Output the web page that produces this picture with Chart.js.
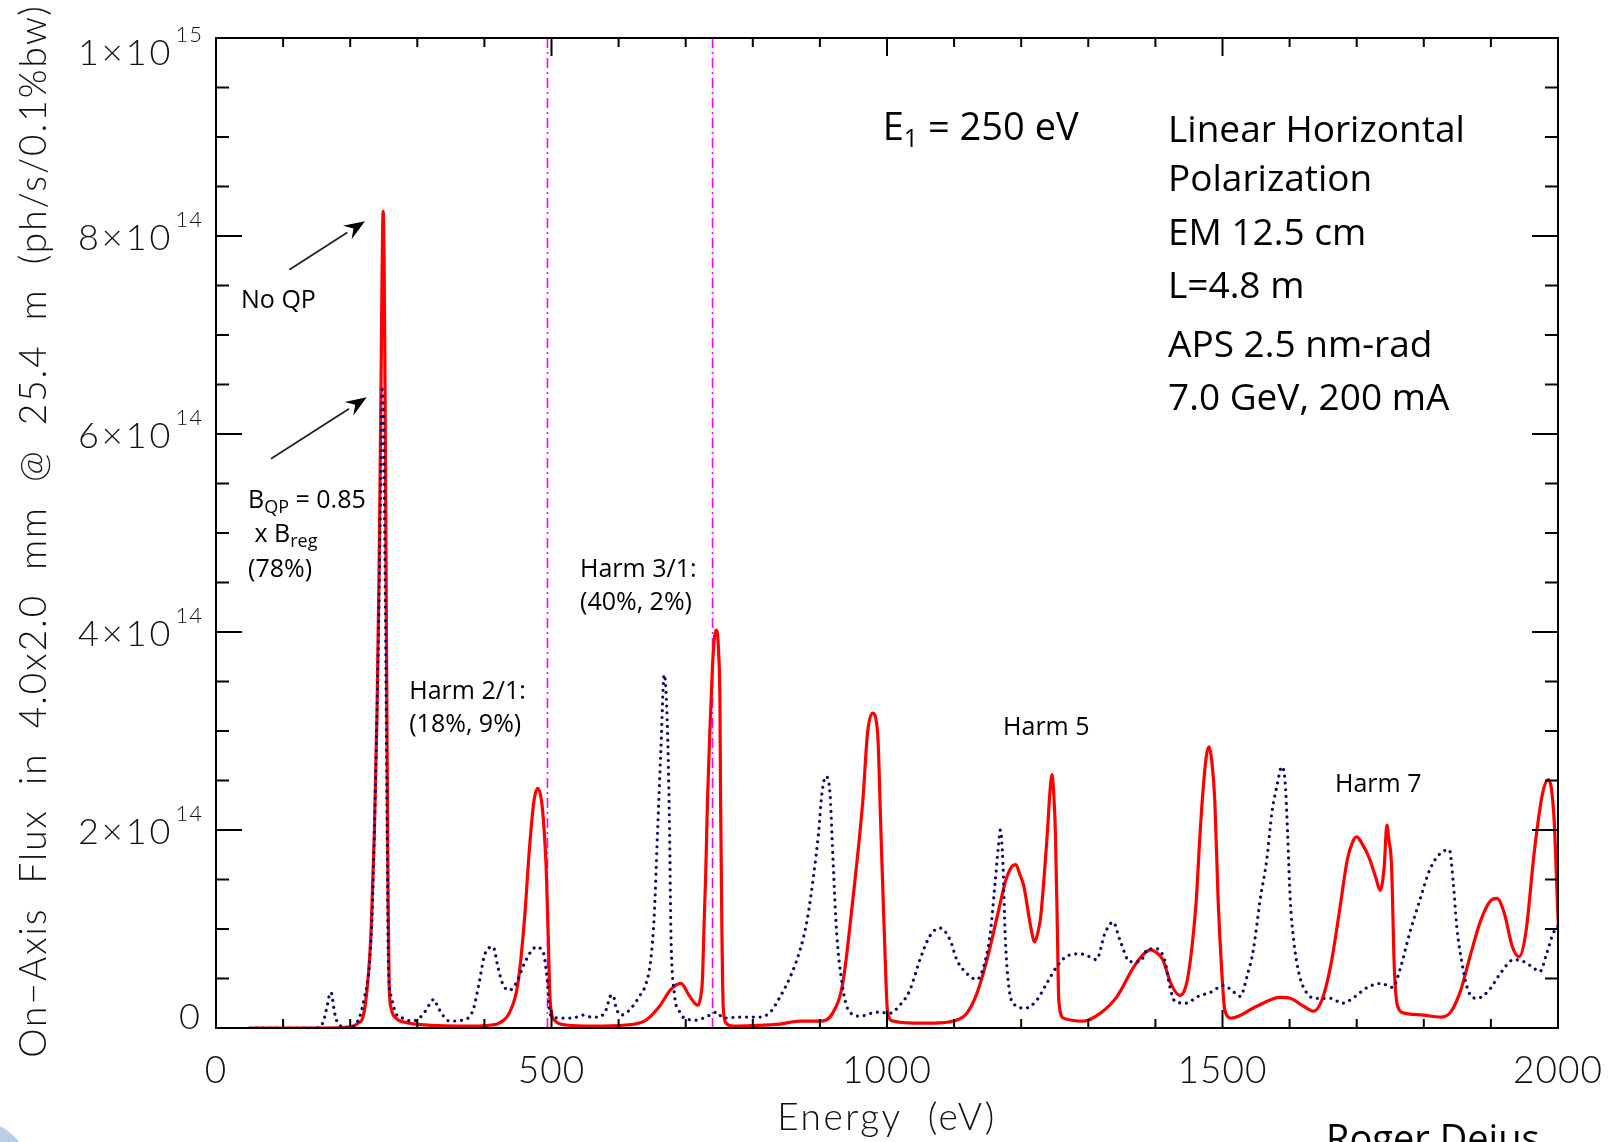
<!DOCTYPE html>
<html>
<head>
<meta charset="utf-8">
<title>On-axis flux, quasi-periodic undulator</title>
<script src="https://cdn.jsdelivr.net/npm/chart.js@4.4.1/dist/chart.umd.min.js"></script>
<style>
  html, body { margin: 0; padding: 0; background: #fff; }
  #wrap { width: 1614px; height: 1142px; }
</style>
</head>
<body>
<div id="wrap"><canvas id="fluxChart" width="1614" height="1142" style="width:1614px;height:1142px"></canvas></div>
<script>
// Flux values are in units of 1e14 ph/s/0.1%bw, energies in eV

// Regular undulator (no quasi-periodic poles) - solid red
const energyNoQP = [
  50, 100, 150, 190, 205, 212, 219, 226, 231, 236, 240, 243, 245.5, 247.5, 249, 250.5, 252, 253.5, 255, 256.5,
  258, 261, 268, 280, 298, 330, 380, 410, 422, 437, 450, 460, 467, 474, 479.5, 485, 489, 492, 495, 498,
  504, 522, 560, 611, 641, 661, 678, 693, 705, 718, 722, 725, 727, 730, 732.5, 736, 740, 743, 746, 749,
  751, 752, 754, 756, 760, 770, 800, 840, 870, 900, 919, 934, 949, 964, 971, 978.5, 986, 991, 996, 1001,
  1009, 1040, 1069, 1099, 1119, 1134, 1149, 1164, 1177, 1185, 1192, 1198, 1204, 1214, 1220, 1225, 1229, 1235, 1239, 1243,
  1246, 1249, 1251, 1254, 1256, 1263, 1293, 1318, 1343, 1368, 1383, 1393, 1400, 1411, 1423, 1436, 1442, 1448, 1455, 1461,
  1466, 1471, 1476, 1480, 1484, 1488.5, 1493.5, 1498.5, 1503.5, 1513, 1551, 1586, 1601, 1621, 1636, 1648, 1661, 1673, 1686, 1694,
  1700, 1709, 1718, 1728, 1735, 1741, 1745, 1748, 1752, 1756, 1761, 1771, 1800, 1825, 1840, 1855, 1870, 1885, 1900, 1909,
  1920, 1932, 1942, 1952, 1965, 1977, 1986, 1994, 1999, 2002
];
const fluxNoQP = [
  0, 0, 0, 0.005, 0.02, 0.05, 0.11, 0.45, 0.96, 1.97, 3.2, 4.6, 6.2, 7.6, 8.25, 7.8, 6.4, 4.6, 2.8, 1.3,
  0.45, 0.2, 0.10, 0.06, 0.04, 0.025, 0.02, 0.03, 0.05, 0.15, 0.45, 1.12, 1.8, 2.30, 2.42, 2.3, 2.0, 1.63, 0.96, 0.28,
  0.08, 0.03, 0.02, 0.03, 0.08, 0.22, 0.39, 0.45, 0.33, 0.23, 0.30, 0.5, 0.96, 1.6, 2.3, 3.0, 3.66, 3.95, 4.02, 3.8,
  3.3, 2.3, 0.96, 0.2, 0.05, 0.02, 0.025, 0.04, 0.07, 0.07, 0.15, 0.45, 1.29, 2.30, 2.98, 3.18, 2.98, 1.97, 0.96, 0.15,
  0.07, 0.05, 0.05, 0.07, 0.15, 0.35, 0.69, 1.12, 1.49, 1.62, 1.65, 1.55, 1.43, 1.03, 0.87, 0.97, 1.12, 1.6, 1.97, 2.4,
  2.56, 2.3, 1.97, 0.96, 0.28, 0.10, 0.07, 0.15, 0.32, 0.62, 0.75, 0.79, 0.77, 0.69, 0.45, 0.33, 0.36, 0.5, 0.85, 1.3,
  1.9, 2.4, 2.75, 2.84, 2.7, 2.3, 1.29, 0.62, 0.18, 0.10, 0.22, 0.31, 0.30, 0.22, 0.17, 0.28, 0.62, 1.12, 1.70, 1.88,
  1.93, 1.85, 1.73, 1.53, 1.39, 1.63, 2.05, 1.9, 1.63, 0.62, 0.22, 0.15, 0.13, 0.11, 0.16, 0.38, 0.75, 1.09, 1.29, 1.31,
  1.16, 0.82, 0.72, 0.96, 1.80, 2.37, 2.51, 2.13, 1.29, 0.79
];

// Quasi-periodic undulator, B_QP = 0.85 x B_reg - dotted navy
const energyQP = [
  50, 100, 150, 159, 165, 169, 171.5, 174, 176, 180, 184, 199, 207, 214, 221, 228.5, 233, 236, 240, 243,
  245.5, 247.5, 249, 250.5, 252, 253.5, 255, 257, 261, 268, 278, 293, 303, 313, 320, 325, 330, 338, 348, 368,
  383, 392, 400, 407, 413, 420, 427, 437, 447, 459.5, 469, 478, 484, 489, 494, 497, 502, 517, 531.5, 546,
  560, 571, 581, 589, 592, 596, 603.5, 616, 631, 641, 648, 653, 658, 663, 668, 673, 676, 678, 683, 690.5,
  698, 715, 736, 746, 756, 781, 811, 826, 841, 856, 870.5, 881, 891, 898, 903, 909, 915, 920, 925, 933,
  942.5, 960, 985, 1004.5, 1019, 1034, 1049, 1064, 1079, 1094, 1104, 1119, 1134, 1144, 1154, 1161, 1166, 1169, 1173, 1176,
  1181, 1191, 1206, 1223, 1238, 1253, 1267, 1287, 1302, 1312, 1325, 1337, 1347, 1362, 1377, 1389, 1402, 1414, 1421.5, 1429,
  1445, 1464, 1482, 1502, 1514, 1526.5, 1536.5, 1546, 1556, 1566, 1573.5, 1581, 1588.5, 1593.5, 1597, 1601, 1606, 1614, 1626, 1641,
  1661, 1679, 1696, 1716, 1736, 1754, 1764, 1779, 1794, 1809, 1824, 1838, 1844, 1849, 1857, 1866, 1879, 1897, 1914, 1934,
  1949, 1961, 1973, 1983, 1993, 2000
];
const fluxQP = [
  0, 0, 0, 0.05, 0.2, 0.33, 0.36, 0.28, 0.18, 0.07, 0.03, 0.0, 0.03, 0.11, 0.3, 0.62, 1.2, 1.97, 3.2, 4.3,
  5.5, 6.45, 6.3, 5.6, 4.6, 3.4, 2.0, 0.62, 0.32, 0.15, 0.10, 0.07, 0.10, 0.18, 0.26, 0.29, 0.22, 0.13, 0.07, 0.08,
  0.18, 0.45, 0.73, 0.81, 0.82, 0.62, 0.45, 0.38, 0.45, 0.65, 0.77, 0.82, 0.80, 0.73, 0.45, 0.18, 0.11, 0.10, 0.10, 0.13,
  0.11, 0.11, 0.18, 0.33, 0.33, 0.21, 0.13, 0.18, 0.32, 0.45, 0.69, 1.12, 1.97, 2.81, 3.57, 2.98, 1.97, 0.96, 0.35, 0.17,
  0.10, 0.08, 0.13, 0.16, 0.10, 0.11, 0.11, 0.16, 0.32, 0.52, 0.79, 1.09, 1.56, 1.97, 2.37, 2.54, 2.37, 1.63, 0.96, 0.45,
  0.18, 0.12, 0.16, 0.15, 0.23, 0.38, 0.69, 0.93, 1.01, 0.89, 0.69, 0.55, 0.49, 0.62, 0.96, 1.46, 1.83, 2.0, 1.63, 0.96,
  0.45, 0.23, 0.20, 0.28, 0.45, 0.62, 0.72, 0.75, 0.72, 0.69, 0.96, 1.07, 0.89, 0.67, 0.67, 0.80, 0.80, 0.68, 0.42, 0.27,
  0.25, 0.32, 0.36, 0.43, 0.38, 0.32, 0.52, 0.79, 1.29, 1.70, 2.17, 2.44, 2.64, 2.47, 1.97, 1.29, 0.89, 0.55, 0.35, 0.30,
  0.30, 0.25, 0.31, 0.41, 0.45, 0.41, 0.58, 0.96, 1.29, 1.60, 1.76, 1.80, 1.46, 1.03, 0.65, 0.38, 0.30, 0.38, 0.55, 0.69,
  0.67, 0.62, 0.57, 0.75, 0.96, 1.03
];

// Energies of the dash-dot markers (2nd and 3rd harmonic of E1)
const harmonicMarkers = [494, 740];

// Axis ranges and tick labels
const energyTicks = [0, 500, 1000, 1500, 2000];
const fluxTicks = [0, 2, 4, 6, 8, 10];
const fluxTickBase = ['0', '2×10', '4×10', '6×10', '8×10', '1×10'];
const fluxTickExp = ['', '14', '14', '14', '14', '15'];

const AXIS_FONT = '"Lato", "DejaVu Sans", sans-serif';
const NOTE_FONT = '"Open Sans", "Noto Sans", sans-serif';

function toPoints(xs, ys) {
  return xs.map((x, i) => ({ x: x, y: ys[i] }));
}

// Draw a run of text pieces (for sub/superscripts), left aligned at (x, y)
function drawRich(ctx, pieces, x, y) {
  let cx = x;
  pieces.forEach(p => {
    ctx.font = p.size + 'px ' + NOTE_FONT;
    ctx.fillText(p.t, cx, y + (p.dy || 0));
    cx += ctx.measureText(p.t).width;
  });
}

function drawArrow(ctx, x0, y0, x1, y1) {
  const ang = Math.atan2(y1 - y0, x1 - x0);
  const headLen = 21, headHalf = 8;
  const bx = x1 - headLen * Math.cos(ang), by = y1 - headLen * Math.sin(ang);
  ctx.strokeStyle = '#222';
  ctx.lineWidth = 1.8;
  ctx.beginPath();
  ctx.moveTo(x0, y0);
  ctx.lineTo(bx, by);
  ctx.stroke();
  ctx.fillStyle = '#000';
  ctx.beginPath();
  ctx.moveTo(x1, y1);
  ctx.lineTo(bx + headHalf * Math.sin(ang), by - headHalf * Math.cos(ang));
  ctx.lineTo(bx + 0.35 * headLen * Math.cos(ang), by + 0.35 * headLen * Math.sin(ang));
  ctx.lineTo(bx - headHalf * Math.sin(ang), by + headHalf * Math.cos(ang));
  ctx.closePath();
  ctx.fill();
}

// Box frame with inward ticks, tick labels, axis titles and notes
const idlFrame = {
  id: 'idlFrame',
  afterDatasetsDraw(chart) {
    const { ctx, chartArea: a, scales: { x, y } } = chart;
    ctx.save();

    ctx.strokeStyle = '#000';
    ctx.lineWidth = 2;
    ctx.strokeRect(a.left, a.top, a.right - a.left, a.bottom - a.top);

    ctx.lineWidth = 2;
    ctx.beginPath();
    // energy ticks: minor every 100 eV, major every 500 eV
    for (let e = x.min; e <= x.max; e += 100) {
      const px = x.getPixelForValue(e);
      const len = e % 500 === 0 ? 18 : 9;
      ctx.moveTo(px, a.bottom); ctx.lineTo(px, a.bottom - len);
      ctx.moveTo(px, a.top); ctx.lineTo(px, a.top + len);
    }
    // flux ticks: minor every 0.5e14, major every 2e14
    for (let v = y.min; v <= y.max + 1e-9; v += 0.5) {
      const py = y.getPixelForValue(v);
      const len = Math.abs(v % 2) < 1e-9 ? 26 : 13;
      ctx.moveTo(a.left, py); ctx.lineTo(a.left + len, py);
      ctx.moveTo(a.right, py); ctx.lineTo(a.right - len, py);
    }
    ctx.stroke();

    ctx.fillStyle = '#111';
    ctx.textBaseline = 'middle';

    // energy tick labels
    ctx.font = '300 37px ' + AXIS_FONT;
    ctx.letterSpacing = '1px';
    ctx.textAlign = 'center';
    energyTicks.forEach(e => {
      ctx.fillText(String(e), x.getPixelForValue(e), 1071);
    });

    // flux tick labels, kept inside the frame vertically
    const labelRight = a.left - 13;
    fluxTicks.forEach((v, i) => {
      let py = y.getPixelForValue(v);
      py = Math.min(Math.max(py, a.top + 13), a.bottom - 13);
      ctx.textAlign = 'right';
      let right = labelRight;
      if (fluxTickExp[i]) {
        ctx.font = '300 22px ' + AXIS_FONT;
        ctx.letterSpacing = '1px';
        ctx.fillText(fluxTickExp[i], right, py - 16);
        right -= ctx.measureText(fluxTickExp[i]).width + 2;
      }
      ctx.font = '300 36px ' + AXIS_FONT;
      ctx.letterSpacing = '3px';
      ctx.fillText(fluxTickBase[i], right, py + 2);
    });

    // axis titles
    ctx.textBaseline = 'alphabetic';
    ctx.textAlign = 'center';
    ctx.font = '300 37px ' + AXIS_FONT;
    ctx.letterSpacing = '2.5px';
    ctx.fillText('Energy  (eV)', (a.left + a.right) / 2, 1130);

    ctx.save();
    ctx.translate(46, 531);
    ctx.rotate(-Math.PI / 2);
    ctx.letterSpacing = '2px';
    ctx.fillText('On−Axis  Flux  in  4.0x2.0  mm  @  25.4  m  (ph/s/0.1%bw)', 0, 0);
    ctx.restore();

    // notes
    ctx.letterSpacing = '0px';
    ctx.textAlign = 'left';
    ctx.fillStyle = '#000';
    const at = (e, v) => [x.getPixelForValue(e), y.getPixelForValue(v)];
    const note = (pieces, e, v) => { const p = at(e, v); drawRich(ctx, pieces, p[0], p[1]); };

    note([{ t: 'No QP', size: 25 }], 37.3, 7.27);
    note([{ t: 'B', size: 25 }, { t: 'QP', size: 18, dy: 5 }, { t: ' = 0.85', size: 25 }], 47.7, 5.25);
    note([{ t: ' x B', size: 25 }, { t: 'reg', size: 18, dy: 5 }], 47.7, 4.91);
    note([{ t: '(78%)', size: 25 }], 47.7, 4.56);
    note([{ t: 'Harm 2/1:', size: 25 }], 288, 3.32);
    note([{ t: '(18%, 9%)', size: 25 }], 288, 2.99);
    note([{ t: 'Harm 3/1:', size: 25 }], 542.5, 4.56);
    note([{ t: '(40%, 2%)', size: 25 }], 542.5, 4.22);
    note([{ t: 'Harm 5', size: 25 }], 1173, 2.96);
    note([{ t: 'Harm 7', size: 25 }], 1667.7, 2.38);

    note([{ t: 'E', size: 38 }, { t: '1', size: 25, dy: 7 }, { t: ' = 250 eV', size: 38 }], 993.6, 8.97);
    const block = ['Linear Horizontal', 'Polarization', 'EM 12.5 cm', 'L=4.8 m', 'APS 2.5 nm-rad', '7.0 GeV, 200 mA'];
    const blockV = [8.95, 8.45, 7.91, 7.37, 6.78, 6.24];
    block.forEach((t, i) => note([{ t: t, size: 37 }], 1418.8, blockV[i]));

    // arrows to the first-harmonic peaks
    let p0 = at(109.2, 7.66), p1 = at(222, 8.15);
    drawArrow(ctx, p0[0], p0[1], p1[0], p1[1]);
    p0 = at(82, 5.75); p1 = at(224.6, 6.37);
    drawArrow(ctx, p0[0], p0[1], p1[0], p1[1]);

    // slide footer bits
    ctx.font = '38px ' + NOTE_FONT;
    ctx.fillStyle = '#000';
    ctx.fillText('Roger Dejus', 1326, 1152);
    ctx.fillStyle = '#b9cfe4';
    ctx.beginPath();
    ctx.arc(-25, 1175, 55, 0, Math.PI * 2);
    ctx.fill();

    ctx.restore();
  }
};

const markerSets = harmonicMarkers.map(e => ({
  label: 'marker ' + e,
  data: [{ x: e, y: 0 }, { x: e, y: 10 }],
  borderColor: '#ff00ff',
  borderWidth: 1.6,
  borderDash: [10, 4, 2, 4],
  pointRadius: 0,
  order: 3
}));

new Chart(document.getElementById('fluxChart').getContext('2d'), {
  type: 'line',
  data: {
    datasets: [
      {
        label: 'B_QP = 0.85 x B_reg',
        data: toPoints(energyQP, fluxQP),
        borderColor: '#0a0a70',
        borderWidth: 3.2,
        borderDash: [0.01, 6.8],
        borderCapStyle: 'round',
        pointRadius: 0,
        cubicInterpolationMode: 'monotone',
        order: 1
      },
      {
        label: 'No QP',
        data: toPoints(energyNoQP, fluxNoQP),
        borderColor: '#ff0000',
        borderWidth: 3.2,
        pointRadius: 0,
        cubicInterpolationMode: 'monotone',
        order: 2
      },
      ...markerSets
    ]
  },
  options: {
    responsive: false,
    animation: false,
    events: [],
    layout: { padding: { left: 216, top: 38, right: 56, bottom: 114 } },
    plugins: {
      legend: { display: false },
      tooltip: { enabled: false }
    },
    scales: {
      x: { type: 'linear', min: 0, max: 2000, display: false },
      y: { type: 'linear', min: 0, max: 10, display: false }
    }
  },
  plugins: [idlFrame]
});
</script>
</body>
</html>
